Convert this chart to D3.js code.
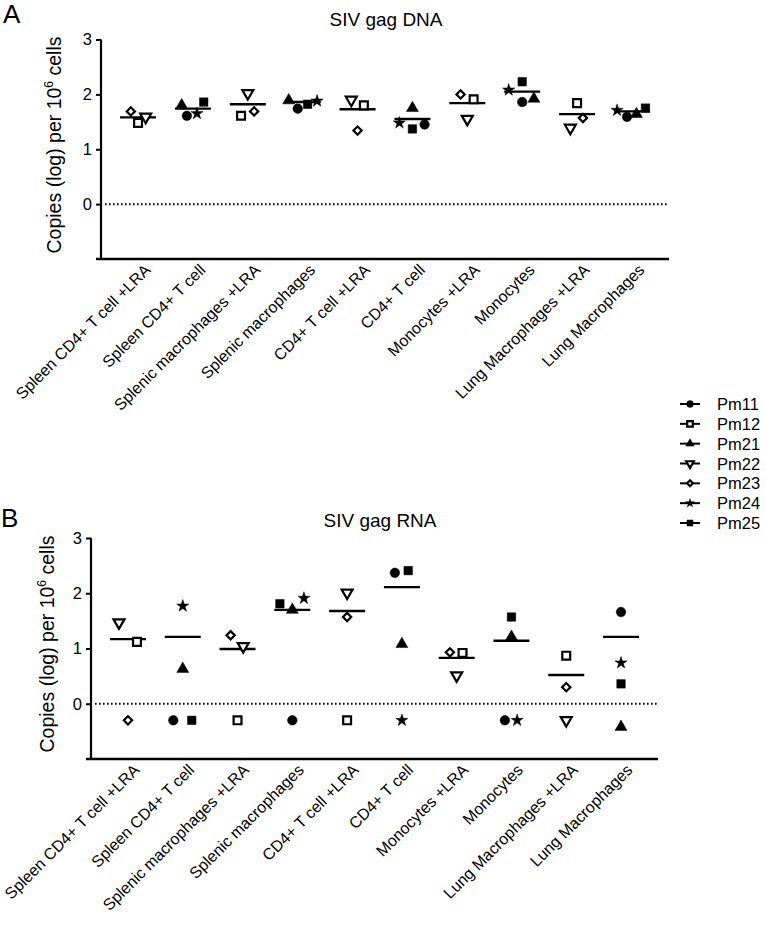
<!DOCTYPE html>
<html><head><meta charset="utf-8">
<script src="https://cdn.jsdelivr.net/npm/d3@7"></script>
<style>
body{margin:0;background:#fff}
text{font-family:Arial,"Liberation Sans",Helvetica,sans-serif;fill:#000}
</style>
</head><body>
<svg id="chart" width="766" height="931"></svg>
<script>
// ---------- data ----------
const categories = ["Spleen CD4+ T cell +LRA","Spleen CD4+ T cell","Splenic macrophages +LRA","Splenic macrophages","CD4+ T cell +LRA","CD4+ T cell","Monocytes +LRA","Monocytes","Lung Macrophages +LRA","Lung Macrophages"];
const subjects = ["Pm11","Pm12","Pm21","Pm22","Pm23","Pm24","Pm25"];
const yTickValues = [0,1,2,3];

// SIV gag DNA: per category, [subject, log copies]
const dnaPoints = [
  [["Pm23",1.69],["Pm12",1.48],["Pm22",1.59]],
  [["Pm21",1.80],["Pm11",1.61],["Pm24",1.65],["Pm25",1.86]],
  [["Pm22",2.02],["Pm12",1.61],["Pm23",1.69]],
  [["Pm21",1.89],["Pm11",1.74],["Pm25",1.82],["Pm24",1.88]],
  [["Pm22",1.90],["Pm12",1.80],["Pm23",1.34]],
  [["Pm21",1.75],["Pm24",1.48],["Pm25",1.37],["Pm11",1.45]],
  [["Pm23",2.00],["Pm12",1.91],["Pm22",1.55]],
  [["Pm24",2.08],["Pm25",2.23],["Pm11",1.86],["Pm21",1.92]],
  [["Pm12",1.84],["Pm22",1.39],["Pm23",1.57]],
  [["Pm24",1.71],["Pm11",1.59],["Pm21",1.64],["Pm25",1.75]]
];
const dnaMeans = [1.58,1.74,1.82,1.86,1.73,1.55,1.84,2.05,1.64,1.69];

// SIV gag RNA
const rnaPoints = [
  [["Pm22",1.47],["Pm12",1.12],["Pm23",-0.30]],
  [["Pm24",1.77],["Pm21",0.63],["Pm11",-0.30],["Pm25",-0.30]],
  [["Pm23",1.24],["Pm22",1.04],["Pm12",-0.30]],
  [["Pm25",1.81],["Pm21",1.70],["Pm24",1.91],["Pm11",-0.30]],
  [["Pm22",2.01],["Pm23",1.57],["Pm12",-0.30]],
  [["Pm11",2.37],["Pm25",2.41],["Pm21",1.08],["Pm24",-0.30]],
  [["Pm23",0.93],["Pm12",0.92],["Pm22",0.51]],
  [["Pm25",1.57],["Pm21",1.21],["Pm11",-0.30],["Pm24",-0.30]],
  [["Pm12",0.87],["Pm23",0.30],["Pm22",-0.30]],
  [["Pm11",1.66],["Pm24",0.74],["Pm25",0.36],["Pm21",-0.42]]
];
const rnaMeans = [1.17,1.21,0.99,1.70,1.68,2.11,0.83,1.14,0.52,1.21];

// scatter spread (in marker-width slots) used to keep overlapping points apart
const dnaSlots = [
  [-0.8,0,0.85],[-1.25,-0.67,0.45,1.2],[0,-0.75,0.7],[-1.55,-0.55,0.55,1.6],[-0.7,0.7,0],
  [0,-1.45,0,1.35],[-0.75,0.7,0],[-1.5,0,0,1.3],[0,-0.75,0.65],[-1.65,-0.55,0.5,1.5]
];
const rnaSlots = [
  [-1,1,0],[0,0,-1.05,1],[-0.77,0.63,0],[-1.38,0,1.29,0],[0,0,0],
  [-0.78,0.7,0,0],[-0.75,0.65,0],[0,0,-0.73,0.63],[0,0,0],[0,0,0,0]
];

// ---------- drawing ----------
const svg = d3.select("#chart");
const symbolFor = {
  Pm11:{type:d3.symbolCircle,size:72,fill:true,rot:0},
  Pm12:{type:d3.symbolSquare,size:62,fill:false,rot:0},
  Pm21:{type:d3.symbolTriangle,size:62,fill:true,rot:0},
  Pm22:{type:d3.symbolTriangle,size:52,fill:false,rot:180},
  Pm23:{type:d3.symbolSquare,size:34,fill:false,rot:45},
  Pm24:{type:d3.symbolStar,size:46,fill:true,rot:0},
  Pm25:{type:d3.symbolSquare,size:72,fill:true,rot:0}
};
function drawSymbol(g, subj, x, y, scale){
  const s = symbolFor[subj];
  g.append("path")
    .attr("d", d3.symbol().type(s.type).size(s.size*(scale||1))())
    .attr("transform", `translate(${x},${y}) rotate(${s.rot})`)
    .attr("fill", s.fill ? "#000" : "#fff")
    .attr("stroke", "#000")
    .attr("stroke-width", s.fill ? 0.5 : 2.2)
    .attr("stroke-linejoin","miter");
}

function panel(opt){
  const g = svg.append("g");
  const x = d3.scalePoint().domain(categories).range([opt.x0, opt.x1]).padding(0.675);
  const y = d3.scaleLinear().domain([-1,3]).range([opt.yBottom, opt.yTop]);
  const slot = d3.scaleLinear().domain([0,1]).range([0,9]);

  // y axis
  const ya = g.append("g").attr("transform",`translate(${opt.x0},0)`)
    .call(d3.axisLeft(y).tickValues(yTickValues).tickSize(5).tickPadding(4).tickFormat(d3.format("d")));
  ya.select(".domain").attr("d",`M0,${y(3)}V${y(-1)}`).attr("stroke-width",2.2);
  ya.selectAll(".tick line").attr("stroke-width",2);
  ya.selectAll(".tick text").attr("font-size",16.5).attr("font-family","Arial,'Liberation Sans',sans-serif");

  // x axis
  const xa = g.append("g").attr("transform",`translate(0,${y(-1)})`)
    .call(d3.axisBottom(x).tickSize(0).tickPadding(0));
  xa.select(".domain").attr("d",`M${opt.x0-5},0H${opt.x1}`).attr("stroke-width",2.5);
  xa.selectAll(".tick text")
    .attr("font-size",16).attr("font-family","Arial,'Liberation Sans',sans-serif")
    .attr("text-anchor","end").attr("dy",null).attr("y",null)
    .attr("transform",`translate(${opt.labelDx},12) rotate(-45)`);

  // zero reference line
  g.append("line").attr("x1",opt.x0+4).attr("x2",opt.x1)
    .attr("y1",y(0)).attr("y2",y(0))
    .attr("stroke","#000").attr("stroke-width",2).attr("stroke-dasharray","1.6,2.4");

  // mean lines
  g.selectAll(".mean").data(opt.means).join("line")
    .attr("x1",(d,i)=>x(categories[i])-18).attr("x2",(d,i)=>x(categories[i])+18)
    .attr("y1",d=>y(d)).attr("y2",d=>y(d))
    .attr("stroke","#000").attr("stroke-width",2.4);

  // points
  opt.points.forEach((pts,i)=>{
    pts.forEach((p,j)=>{
      drawSymbol(g, p[0], x(categories[i]) + slot(opt.slots[i][j]), y(p[1]));
    });
  });

  // title
  g.append("text").attr("x",opt.titleX).attr("y",opt.titleY).attr("text-anchor","middle")
    .attr("font-size",19).text(opt.title);
  // panel letter
  g.append("text").attr("x",opt.letterX).attr("y",opt.letterY).attr("font-size",26).text(opt.letter);
  // y title
  const t = g.append("text").attr("text-anchor","middle").attr("font-size",19.5)
    .attr("transform",`translate(${opt.ytitleX},${opt.ytitleY}) rotate(-90)`);
  t.append("tspan").text("Copies (log) per 10");
  t.append("tspan").attr("font-size",12).attr("dy",-8).text("6");
  t.append("tspan").attr("dy",8).text(" cells");
}

panel({x0:101,x1:669,yTop:39.5,yBottom:259,points:dnaPoints,means:dnaMeans,slots:dnaSlots,labelDx:13,
  title:"SIV gag DNA",titleX:386,titleY:26,letter:"A",letterX:3,letterY:23,ytitleX:61,ytitleY:145});
panel({x0:91,x1:658,yTop:538,yBottom:759,points:rnaPoints,means:rnaMeans,slots:rnaSlots,labelDx:12,
  title:"SIV gag RNA",titleX:380,titleY:527,letter:"B",letterX:1,letterY:527,ytitleX:54,ytitleY:644});

// legend
const lg = svg.append("g");
const ly = d3.scalePoint().domain(subjects).range([404,523]);
subjects.forEach(s=>{
  const yy = ly(s);
  lg.append("line").attr("x1",680).attr("x2",700).attr("y1",yy).attr("y2",yy)
    .attr("stroke","#000").attr("stroke-width",2);
  drawSymbol(lg, s, 690, yy, 0.5);
  lg.append("text").attr("x",717).attr("y",yy+6).attr("font-size",16.5).text(s);
});
</script>
</body></html>
